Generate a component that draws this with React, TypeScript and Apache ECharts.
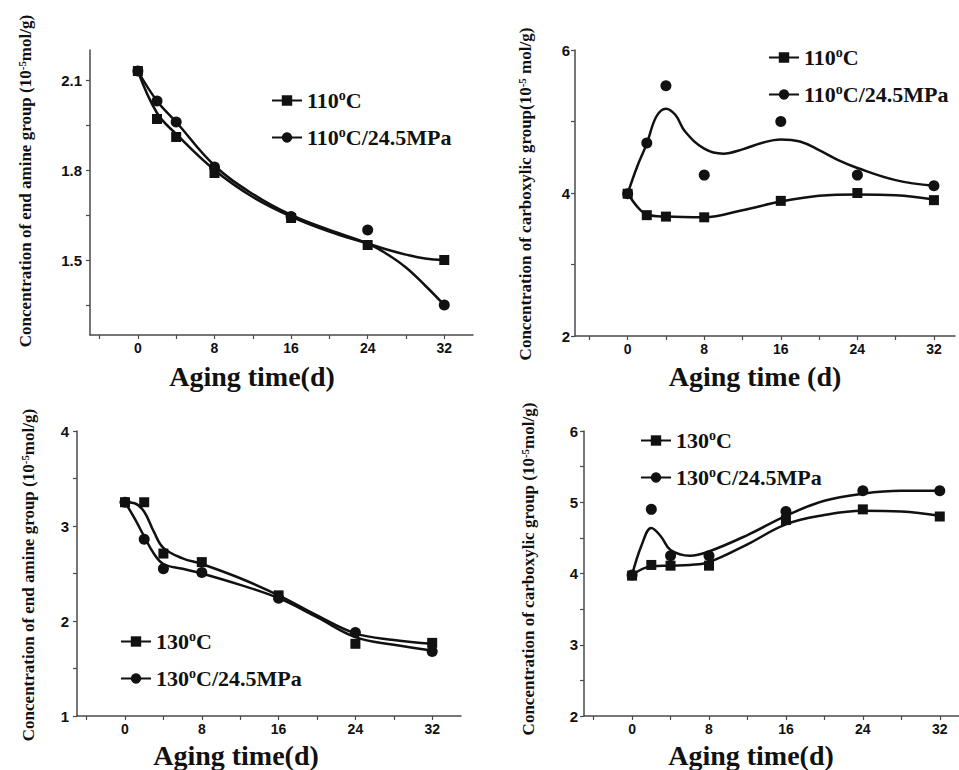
import { useEffect, useRef } from 'react';
import * as echarts from 'echarts';

// ---- data (days of aging) ----
const agingDays = [0, 2, 4, 8, 16, 24, 32];

// Panel 1: end amine group, 110 °C
const amine110 = [2.13, 1.97, 1.91, 1.79, 1.64, 1.55, 1.5];
const amine110P = [2.13, 2.03, 1.96, 1.81, 1.645, 1.6, 1.35];
const amine110FitDays = [0, 2, 4, 8, 12, 16, 20, 24, 26, 28, 30, 32];
const amine110Fit = [2.13, 1.99, 1.92, 1.8, 1.71, 1.645, 1.595, 1.555, 1.535, 1.518, 1.505, 1.5];
const amine110PFit = [2.13, 2.03, 1.96, 1.815, 1.72, 1.65, 1.6, 1.555, 1.52, 1.475, 1.415, 1.35];

// Panel 2: carboxylic group, 110 °C
const carb110 = [3.99, 3.69, 3.67, 3.66, 3.89, 4.0, 3.9];
const carb110P = [3.99, 4.7, 5.5, 4.25, 5.0, 4.25, 4.1];
const carb110FitDays = [0, 1, 2, 4, 8, 12, 16, 20, 24, 28, 32];
const carb110Fit = [4.0, 3.81, 3.7, 3.67, 3.66, 3.76, 3.88, 3.96, 3.98, 3.97, 3.91];
const carb110PFitDays = [0, 1, 2, 3, 4, 5, 6, 8, 10, 12, 14, 16, 18, 20, 22, 24, 28, 32];
const carb110PFit = [3.99, 4.37, 4.69, 5.07, 5.18, 5.09, 4.86, 4.62, 4.55, 4.61, 4.7, 4.75, 4.72, 4.6, 4.46, 4.35, 4.18, 4.1];

// Panel 3: end amine group, 130 °C
const amine130 = [3.25, 3.25, 2.71, 2.62, 2.27, 1.76, 1.77];
const amine130P = [3.25, 2.86, 2.55, 2.51, 2.24, 1.88, 1.68];
const amine130FitDays = [0, 1, 2, 3, 4, 6, 8, 12, 16, 20, 24, 28, 32];
const amine130Fit = [3.25, 3.24, 3.15, 2.94, 2.77, 2.66, 2.6, 2.45, 2.27, 2.06, 1.87, 1.8, 1.76];
const amine130PFit = [3.25, 3.08, 2.89, 2.71, 2.6, 2.55, 2.5, 2.38, 2.24, 2.04, 1.83, 1.75, 1.69];

// Panel 4: carboxylic group, 130 °C
const carb130 = [3.97, 4.12, 4.11, 4.11, 4.75, 4.9, 4.8];
const carb130P = [3.98, 4.9, 4.25, 4.25, 4.87, 5.16, 5.16];
const carb130FitDays = [0, 2, 4, 6, 8, 12, 16, 20, 24, 28, 32];
const carb130Fit = [3.98, 4.1, 4.11, 4.12, 4.16, 4.41, 4.69, 4.82, 4.88, 4.87, 4.81];
const carb130PFitDays = [0, 1, 2, 3, 4, 6, 8, 12, 16, 20, 24, 28, 32];
const carb130PFit = [3.98, 4.4, 4.64, 4.52, 4.33, 4.25, 4.31, 4.54, 4.81, 5.02, 5.12, 5.16, 5.16];

// ticks
const xTickValues = [-4, 0, 4, 8, 12, 16, 20, 24, 28, 32];
const xLabelValues = [0, 8, 16, 24, 32];
const y1Labels = [1.5, 1.8, 2.1];
const y1Ticks = [1.35, 1.5, 1.65, 1.8, 1.95, 2.1];
const y2Labels = [2, 4, 6];
const y2Ticks = [2, 3, 4, 5, 6];
const y3Labels = [1, 2, 3, 4];
const y3Ticks = [1, 1.5, 2, 2.5, 3, 3.5, 4];
const y4Labels = [2, 3, 4, 5, 6];
const y4Ticks = [2, 2.5, 3, 3.5, 4, 4.5, 5, 5.5, 6];

// legend labels (rich text)
const legendText: Record<string, string> = {
  a110: '110{sup|o}C',
  a110p: '110{sup|o}C/24.5MPa',
  c110: '110{sup|o}C',
  c110p: '110{sup|o}C/24.5MPa',
  a130: '130{sup|o}C',
  a130p: '130{sup|o}C/24.5MPa',
  c130: '130{sup|o}C',
  c130p: '130{sup|o}C/24.5MPa',
};

const yTitles = [
  'Concentration of end amine group (10{sup|-5}mol/g)',
  'Concentration of carboxylic group(10{sup|-5} mol/g)',
  'Concentration of end amine group (10{sup|-5}mol/g)',
  'Concentration of carboxylic group (10{sup|-5}mol/g)',
];
const xTitles = ['Aging time(d)', 'Aging time (d)', 'Aging time(d)', 'Aging time(d)'];

const INK = '#111';
const AXIS = '#4a4a4a';
const SERIF = '"Liberation Serif", "Times New Roman", serif';
const SANS = '"Liberation Sans", Arial, sans-serif';

function pairs(xs: number[], ys: number[]) {
  return xs.map((x, i) => [x, ys[i]]);
}

export default function App() {
  const ref = useRef<HTMLDivElement>(null);

  useEffect(() => {
    document.body.style.margin = '0';
    if (!ref.current) return;
    const chart = echarts.init(ref.current, null, { renderer: 'svg' });

    const grids = [
      { left: 90, top: 50, width: 383, height: 285 },
      { left: 575, top: 50, width: 380, height: 286 },
      { left: 77, top: 431, width: 384, height: 285 },
      { left: 584, top: 431, width: 375, height: 285 },
    ];
    const xRanges = [
      [-5, 35],
      [-5.5, 34.2],
      [-5, 35],
      [-5, 34],
    ];
    const yRanges = [
      [1.25, 2.2],
      [2, 6],
      [1, 4],
      [2, 6],
    ];
    const yLab = [y1Labels, y2Labels, y3Labels, y4Labels];
    const yTk = [y1Ticks, y2Ticks, y3Ticks, y4Ticks];
    const yMargins = [8, 5, 8, 6];

    const xAxis = grids.map((_, i) => ({
      type: 'value',
      gridIndex: i,
      min: xRanges[i][0],
      max: xRanges[i][1],
      axisLine: { show: true, onZero: false, lineStyle: { color: AXIS, width: 1.5 } },
      axisTick: { show: true, length: 4, customValues: xTickValues, lineStyle: { color: AXIS, width: 1.2 } },
      axisLabel: {
        customValues: xLabelValues,
        margin: 6,
        fontFamily: SANS,
        fontWeight: 'bold',
        fontSize: 14,
        color: INK,
      },
      splitLine: { show: false },
    }));

    const yAxis = grids.map((_, i) => ({
      type: 'value',
      gridIndex: i,
      min: yRanges[i][0],
      max: yRanges[i][1],
      axisLine: { show: true, onZero: false, lineStyle: { color: AXIS, width: 1.5 } },
      axisTick: { show: true, length: 4, customValues: yTk[i], lineStyle: { color: AXIS, width: 1.2 } },
      axisLabel: {
        customValues: yLab[i],
        margin: yMargins[i],
        fontFamily: SANS,
        fontWeight: 'bold',
        fontSize: 15,
        color: INK,
      },
      splitLine: { show: false },
    }));

    const panels = [
      { sq: 'a110', ci: 'a110p', sqPts: amine110, ciPts: amine110P, sqFitX: amine110FitDays, sqFit: amine110Fit, ciFitX: amine110FitDays, ciFit: amine110PFit },
      { sq: 'c110', ci: 'c110p', sqPts: carb110, ciPts: carb110P, sqFitX: carb110FitDays, sqFit: carb110Fit, ciFitX: carb110PFitDays, ciFit: carb110PFit },
      { sq: 'a130', ci: 'a130p', sqPts: amine130, ciPts: amine130P, sqFitX: amine130FitDays, sqFit: amine130Fit, ciFitX: amine130FitDays, ciFit: amine130PFit },
      { sq: 'c130', ci: 'c130p', sqPts: carb130, ciPts: carb130P, sqFitX: carb130FitDays, sqFit: carb130Fit, ciFitX: carb130PFitDays, ciFit: carb130PFit },
    ];

    const series: any[] = [];
    panels.forEach((p, i) => {
      const common = { xAxisIndex: i, yAxisIndex: i, silent: true };
      series.push({
        ...common,
        type: 'line',
        name: p.sq,
        data: pairs(p.sqFitX, p.sqFit),
        smooth: 0.4,
        symbol: 'rect',
        symbolSize: 10,
        showSymbol: false,
        lineStyle: { color: INK, width: 2.5 },
        itemStyle: { color: INK },
        z: 2,
      });
      series.push({
        ...common,
        type: 'line',
        name: p.ci,
        data: pairs(p.ciFitX, p.ciFit),
        smooth: 0.4,
        symbol: 'circle',
        symbolSize: 11,
        showSymbol: false,
        lineStyle: { color: INK, width: 2.5 },
        itemStyle: { color: INK },
        z: 2,
      });
      series.push({
        ...common,
        type: 'scatter',
        name: p.sq,
        data: pairs(agingDays, p.sqPts),
        symbol: 'rect',
        symbolSize: 10,
        itemStyle: { color: INK, opacity: 1 },
        z: 3,
      });
      series.push({
        ...common,
        type: 'scatter',
        name: p.ci,
        data: pairs(agingDays, p.ciPts),
        symbol: 'circle',
        symbolSize: 11,
        itemStyle: { color: INK, opacity: 1 },
        z: 3,
      });
    });

    const legendPos = [
      { left: 266, top: 83 },
      { left: 763, top: 40 },
      { left: 115, top: 624 },
      { left: 635, top: 423 },
    ];
    const legend = panels.map((p, i) => ({
      orient: 'vertical',
      left: legendPos[i].left,
      top: legendPos[i].top,
      itemWidth: 30,
      itemHeight: 13,
      itemGap: 12,
      selectedMode: false,
      data: [p.sq, p.ci],
      formatter: (n: string) => legendText[n],
      textStyle: {
        fontFamily: SERIF,
        fontWeight: 'bold',
        fontSize: 22,
        lineHeight: 25,
        color: INK,
        rich: {
          sup: {
            fontFamily: SERIF,
            fontWeight: 'bold',
            fontSize: 14,
            lineHeight: 17,
            verticalAlign: 'top',
            color: INK,
          },
        },
      },
    }));

    const yTitlePos = [
      [25, 181],
      [525, 194],
      [28, 575],
      [528, 569],
    ];
    const xTitlePos = [
      [252, 376],
      [755, 376],
      [236, 755],
      [751, 755],
    ];
    const graphic: any[] = [];
    yTitles.forEach((t, i) => {
      graphic.push({
        type: 'text',
        x: yTitlePos[i][0],
        y: yTitlePos[i][1],
        rotation: Math.PI / 2,
        silent: true,
        style: {
          text: t,
          fontFamily: SERIF,
          fontWeight: 'bold',
          fontSize: 17,
          fill: INK,
          align: 'center',
          verticalAlign: 'middle',
          rich: {
            sup: {
              fontFamily: SERIF,
              fontWeight: 'bold',
              fontSize: 11,
              lineHeight: 14,
              verticalAlign: 'top',
              fill: INK,
            },
          },
        },
      });
    });
    xTitles.forEach((t, i) => {
      graphic.push({
        type: 'text',
        x: xTitlePos[i][0],
        y: xTitlePos[i][1],
        silent: true,
        style: {
          text: t,
          fontFamily: SERIF,
          fontWeight: 'bold',
          fontSize: 28,
          fill: INK,
          align: 'center',
          verticalAlign: 'middle',
        },
      });
    });

    chart.setOption({
      animation: false,
      backgroundColor: '#fff',
      grid: grids,
      xAxis,
      yAxis,
      legend,
      series,
      graphic,
    } as any);

    return () => {
      chart.dispose();
    };
  }, []);

  return <div ref={ref} style={{ width: 959, height: 770 }} />;
}
